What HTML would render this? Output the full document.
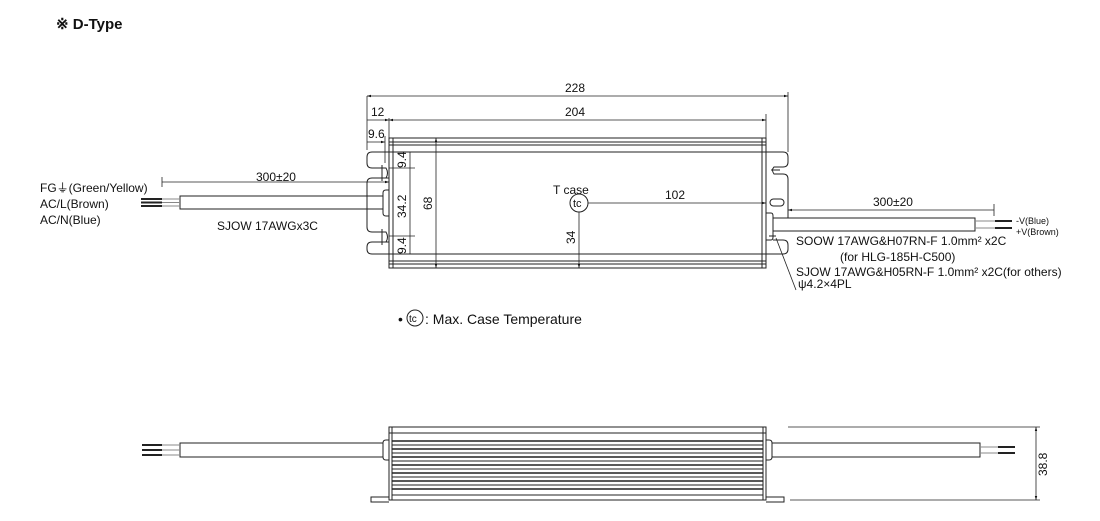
<!DOCTYPE html>
<html><head><meta charset="utf-8"><style>
html,body{margin:0;padding:0;background:#fff;}
svg{display:block;}
text{font-family:"Liberation Sans",Arial,sans-serif;fill:#111;}
</style></head><body>
<svg width="1100" height="521" viewBox="0 0 1100 521" xmlns="http://www.w3.org/2000/svg">
<defs>
<marker id="a" viewBox="0 0 10 10" refX="10" refY="5" markerWidth="7" markerHeight="5" orient="auto-start-reverse"><path d="M0,2 L10,5 L0,8 z" fill="#111"/></marker>
</defs>
<text x="56" y="29" font-size="15" font-weight="bold">※ D-Type</text>

<g stroke="#222" stroke-width="1" fill="none">
<rect x="389" y="138" width="377" height="130"/>
<line x1="389" y1="142" x2="766" y2="142"/>
<line x1="389" y1="145" x2="766" y2="145"/>
<line x1="389" y1="152" x2="766" y2="152"/>
<line x1="389" y1="254" x2="766" y2="254"/>
<line x1="389" y1="261" x2="766" y2="261"/>
<line x1="389" y1="264" x2="766" y2="264"/>
<line x1="393" y1="138" x2="393" y2="268"/>
<line x1="762" y1="138" x2="762" y2="268"/>
<path d="M389,152 H372 Q367,152 367,157 V163 Q367,168 372,168 H380 M389,178 H372 Q367,178 367,183 V227 Q367,232 372,232 H380 M389,242 H372 Q367,242 367,247 V249 Q367,254 372,254 H389"/>
<path d="M380,168 H386 Q389,173 386,178 H380"/>
<path d="M380,232 H386 Q389,237 386,242 H380"/>
<line x1="382" y1="165" x2="382" y2="181"/>
<line x1="382" y1="229" x2="382" y2="245"/>
<path d="M389,190 H386 Q383,190 383,193 V213 Q383,216 386,216 H389"/>
<path d="M766,152 H783 Q788,152 788,157 V162 Q788,167 783,167 H774 Q771,170 774,174 H783 Q788,174 788,179 V218"/>
<path d="M773,240 H783 Q788,240 788,245 V249 Q788,254 783,254 H766"/>
<line x1="771" y1="170" x2="780" y2="170"/>
<rect x="770" y="199" width="14" height="7" rx="3.5"/>
<path d="M766,213 H771 Q773,213 773,216 V237 Q773,240 771,240 H766"/>
<line x1="769" y1="236" x2="776" y2="236"/>
<rect x="180" y="196" width="203" height="13"/>
<line x1="162" y1="199" x2="180" y2="199" stroke="#888"/>
<line x1="162" y1="202.5" x2="180" y2="202.5" stroke="#888"/>
<line x1="162" y1="206" x2="180" y2="206" stroke="#888"/>
<line x1="141" y1="199" x2="162" y2="199" stroke-width="2"/>
<line x1="141" y1="202.5" x2="162" y2="202.5" stroke-width="2"/>
<line x1="141" y1="206" x2="162" y2="206" stroke-width="2"/>
<rect x="773" y="218" width="202" height="13"/>
<line x1="975" y1="221" x2="995" y2="221" stroke="#888"/>
<line x1="975" y1="228" x2="995" y2="228" stroke="#888"/>
<line x1="995" y1="221" x2="1012" y2="221" stroke-width="2"/>
<line x1="995" y1="228" x2="1012" y2="228" stroke-width="2"/>
</g>

<g stroke="#222" stroke-width="0.8" fill="none">
<line x1="367" y1="96" x2="367" y2="150"/>
<line x1="788" y1="92" x2="788" y2="152"/>
<line x1="367" y1="96" x2="788" y2="96" marker-start="url(#a)" marker-end="url(#a)"/>
<line x1="389" y1="118" x2="389" y2="138"/>
<line x1="766" y1="114" x2="766" y2="138"/>
<line x1="367" y1="120" x2="389" y2="120" marker-end="url(#a)"/>
<line x1="389" y1="120" x2="766" y2="120" marker-start="url(#a)" marker-end="url(#a)"/>
<line x1="385" y1="136" x2="385" y2="163"/>
<line x1="367" y1="142" x2="385" y2="142" marker-end="url(#a)"/>
<line x1="389" y1="152" x2="415" y2="152"/>
<line x1="389" y1="168" x2="415" y2="168"/>
<line x1="389" y1="236" x2="415" y2="236"/>
<line x1="389" y1="254" x2="415" y2="254"/>
<line x1="410" y1="152" x2="410" y2="254"/>
<line x1="436" y1="138" x2="436" y2="268" marker-start="url(#a)" marker-end="url(#a)"/>
<circle cx="579" cy="203" r="9" stroke-width="1"/>
<line x1="588" y1="203" x2="766" y2="203" marker-end="url(#a)"/>
<line x1="579" y1="212" x2="579" y2="268" marker-end="url(#a)"/>
<line x1="162" y1="182" x2="389" y2="182" marker-end="url(#a)"/>
<line x1="162" y1="177" x2="162" y2="187"/>
<line x1="788" y1="210" x2="994" y2="210" marker-start="url(#a)"/>
<line x1="994" y1="204" x2="994" y2="216"/>
<line x1="776" y1="238" x2="796" y2="290"/>
</g>

<g font-size="12">
<text x="565" y="92">228</text>
<text x="565" y="116">204</text>
<text x="371" y="116">12</text>
<text x="368" y="138">9.6</text>
<text x="553" y="194">T case</text>
<text x="573" y="207" font-size="11">tc</text>
<text x="665" y="199">102</text>
<text x="256" y="181">300±20</text>
<text x="873" y="206">300±20</text>
<text x="217" y="230">SJOW 17AWGx3C</text>
<text x="40" y="192">FG⏚(Green/Yellow)</text>
<text x="40" y="208">AC/L(Brown)</text>
<text x="40" y="224">AC/N(Blue)</text>
<text x="1016" y="224" font-size="9">-V(Blue)</text>
<text x="1016" y="235" font-size="9">+V(Brown)</text>
<text x="796" y="245">SOOW 17AWG&amp;H07RN-F 1.0mm² x2C</text>
<text x="840" y="261">(for HLG-185H-C500)</text>
<text x="796" y="276">SJOW 17AWG&amp;H05RN-F 1.0mm² x2C(for others)</text>
<text x="798" y="288">ψ4.2×4PL</text>
<text transform="translate(406,168) rotate(-90)">9.4</text>
<text transform="translate(406,218) rotate(-90)">34.2</text>
<text transform="translate(406,254) rotate(-90)">9.4</text>
<text transform="translate(432,210) rotate(-90)">68</text>
<text transform="translate(575,244) rotate(-90)">34</text>
<text transform="translate(1047,476) rotate(-90)">38.8</text>
</g>

<text x="398" y="324" font-size="14">•</text>
<circle cx="415" cy="318" r="8" fill="none" stroke="#222"/>
<text x="409" y="322" font-size="10">tc</text>
<text x="425" y="324" font-size="14">: Max. Case Temperature</text>

<g stroke="#222" stroke-width="1" fill="none">
<rect x="389" y="427" width="377" height="73"/>
<line x1="392" y1="427" x2="392" y2="500"/>
<line x1="763" y1="427" x2="763" y2="500"/>
<line x1="389" y1="433" x2="766" y2="433"/>
<path d="M389,497 H371 V502 H389 M766,497 H784 V502 H766"/>
<path d="M389,440 H386 Q383,440 383,443 V457 Q383,460 386,460 H389"/>
<path d="M766,440 H769 Q772,440 772,443 V457 Q772,460 769,460 H766"/>
<rect x="180" y="443" width="203" height="14"/>
<rect x="772" y="443" width="208" height="14"/>
<line x1="788" y1="427" x2="1040" y2="427" stroke-width="0.8"/>
<line x1="790" y1="500" x2="1040" y2="500" stroke-width="0.8"/>
<line x1="1036" y1="427" x2="1036" y2="500" stroke-width="0.8" marker-start="url(#a)" marker-end="url(#a)"/>
<line x1="162" y1="445" x2="180" y2="445" stroke="#888"/>
<line x1="162" y1="450" x2="180" y2="450" stroke="#888"/>
<line x1="162" y1="455" x2="180" y2="455" stroke="#888"/>
<line x1="142" y1="445" x2="162" y2="445" stroke-width="2"/>
<line x1="142" y1="450" x2="162" y2="450" stroke-width="2"/>
<line x1="142" y1="455" x2="162" y2="455" stroke-width="2"/>
<line x1="980" y1="447" x2="998" y2="447" stroke="#888"/>
<line x1="980" y1="453" x2="998" y2="453" stroke="#888"/>
<line x1="998" y1="447" x2="1015" y2="447" stroke-width="2"/>
<line x1="998" y1="453" x2="1015" y2="453" stroke-width="2"/>
</g>
<g stroke="#222">
<line x1="392" y1="441" x2="763" y2="441" stroke-width="1.5"/>
<line x1="392" y1="445" x2="763" y2="445" stroke-width="1"/>
<line x1="392" y1="449" x2="763" y2="449" stroke-width="1.5"/>
<line x1="392" y1="453" x2="763" y2="453" stroke-width="1"/>
<line x1="392" y1="457" x2="763" y2="457" stroke-width="1.5"/>
<line x1="392" y1="461" x2="763" y2="461" stroke-width="1"/>
<line x1="392" y1="465" x2="763" y2="465" stroke-width="1.5"/>
<line x1="392" y1="469" x2="763" y2="469" stroke-width="1"/>
<line x1="392" y1="473" x2="763" y2="473" stroke-width="1.5"/>
<line x1="392" y1="477" x2="763" y2="477" stroke-width="1"/>
<line x1="392" y1="481" x2="763" y2="481" stroke-width="1.5"/>
<line x1="392" y1="485" x2="763" y2="485" stroke-width="1"/>
<line x1="392" y1="489" x2="763" y2="489" stroke-width="1.5"/>
<line x1="392" y1="495" x2="763" y2="495" stroke-width="1"/>
</g>
</svg>
</body></html>
